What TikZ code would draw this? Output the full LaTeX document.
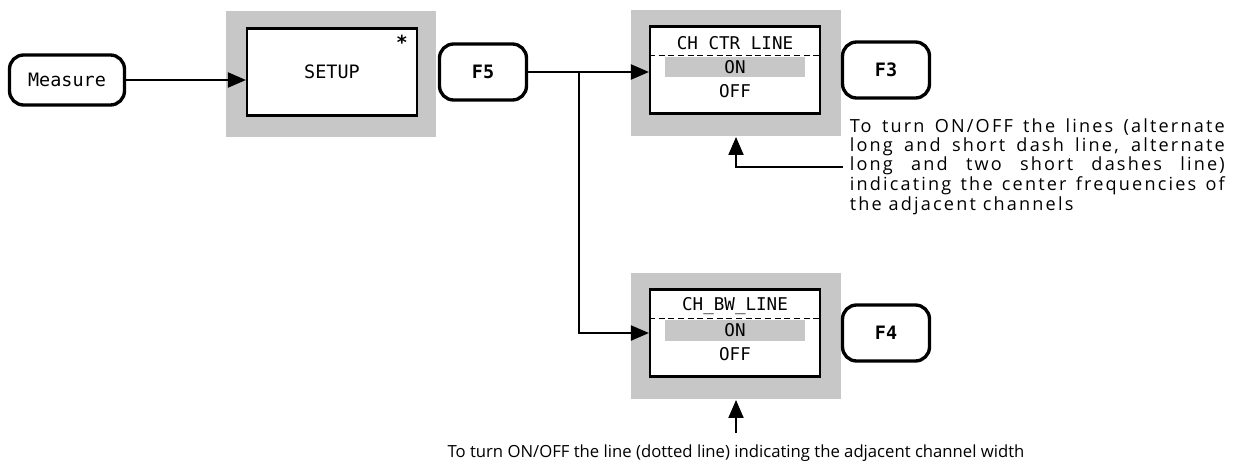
\documentclass[tikz,border=0pt]{standalone}
\usepackage{fontspec}
\setmainfont{Open Sans}
\setmonofont{DejaVu Sans Mono}
\usetikzlibrary{arrows.meta}
\definecolor{cshade}{gray}{0.78}
\newcommand{\wideline}[1]{\makebox[7.5cm][s]{#1}}
\tikzset{
  every picture/.style={x=0.02cm, y=-0.02cm, line width=1.1pt},
  keybox/.style={draw, line width=1.9pt, rounded corners=8pt, font=\ttfamily\fontsize{10.5}{12}\selectfont},
  fkey/.style={keybox, font=\ttfamily\bfseries\fontsize{10.5}{12}\selectfont, minimum width=1.74cm, minimum height=1.12cm},
  shadeframe/.style={fill=cshade, minimum width=4.2cm, minimum height=2.52cm},
  menu/.style={draw, fill=white, line width=1.2pt, minimum width=3.4cm, minimum height=1.74cm, font=\ttfamily\fontsize{10.5}{12}\selectfont},
  item/.style={font=\ttfamily\fontsize{10}{12}\selectfont, inner sep=1pt},
  onbar/.style={item, fill=cshade, minimum width=2.8cm, minimum height=0.42cm},
  arrow/.style={-{Triangle[length=3.6mm, width=3mm]}},
  note/.style={font=\fontsize{9.5}{9.4}\selectfont, align=left},
}
\begin{document}
\begin{tikzpicture}
  \useasboundingbox (0,0) rectangle (1233,470);
  % Measure key into SETUP
  \node[keybox, minimum width=2.3cm, minimum height=1cm] (measure) at (67,80) {Measure};
  \node[shadeframe] (setupframe) at (331,74) {};
  \node[menu] (setup) at (332,72) {SETUP};
  \node[font=\ttfamily\bfseries\fontsize{11}{12}\selectfont, inner sep=0pt] (star) at (402,42) {*};
  \draw[arrow] (measure.east) -- (measure.east -| setup.west);
  % F5 fans out to the two line menus
  \node[fkey] (f5) at (483,72) {F5};
  \foreach \name/\y/\title/\fname in {ctr/70/CH CTR LINE/F3, bw/333/CH\_BW\_LINE/F4} {
    \node[shadeframe] (\name frame) at (736,\y+3) {};
    \node[menu] (\name) at (735,\y) {};
    \node[item] (\name head) at (735,\y-27) {\title};
    \node[onbar] (\name on) at (735,\y-3) {ON};
    \draw[line width=0.8pt, dash pattern=on 3.5pt off 2pt] (\name.west |- \name on.north) -- (\name.east |- \name on.north);
    \node[item] (\name off) at (735,\y+21) {OFF};
    \node[fkey] (\name key) at (886,\y) {\fname};
  }
  \draw[arrow] (f5.east) -- (f5.east -| ctr.west);
  \draw[arrow] (f5.east) ++(51,0) |- (bw.west);
  % notes
  \node[note, anchor=west, font=\fontsize{10.3}{9.4}\selectfont\addfontfeature{LetterSpace=12}] (ctrnote) at (843,167) {%
    \wideline{To turn ON/OFF the lines (alternate}\\
    \wideline{long and short dash line, alternate}\\
    \wideline{long and two short dashes line)}\\
    \wideline{indicating the center frequencies of}\\
    the adjacent channels};
  \draw[arrow] (ctrnote.west) -| (ctrframe.south);
  \node[note, inner sep=6pt] (bwnote) at (736,453) {To turn ON/OFF the line (dotted line) indicating the adjacent channel width};
  \draw[arrow] (bwnote) -- (bwframe);
\end{tikzpicture}
\end{document}
